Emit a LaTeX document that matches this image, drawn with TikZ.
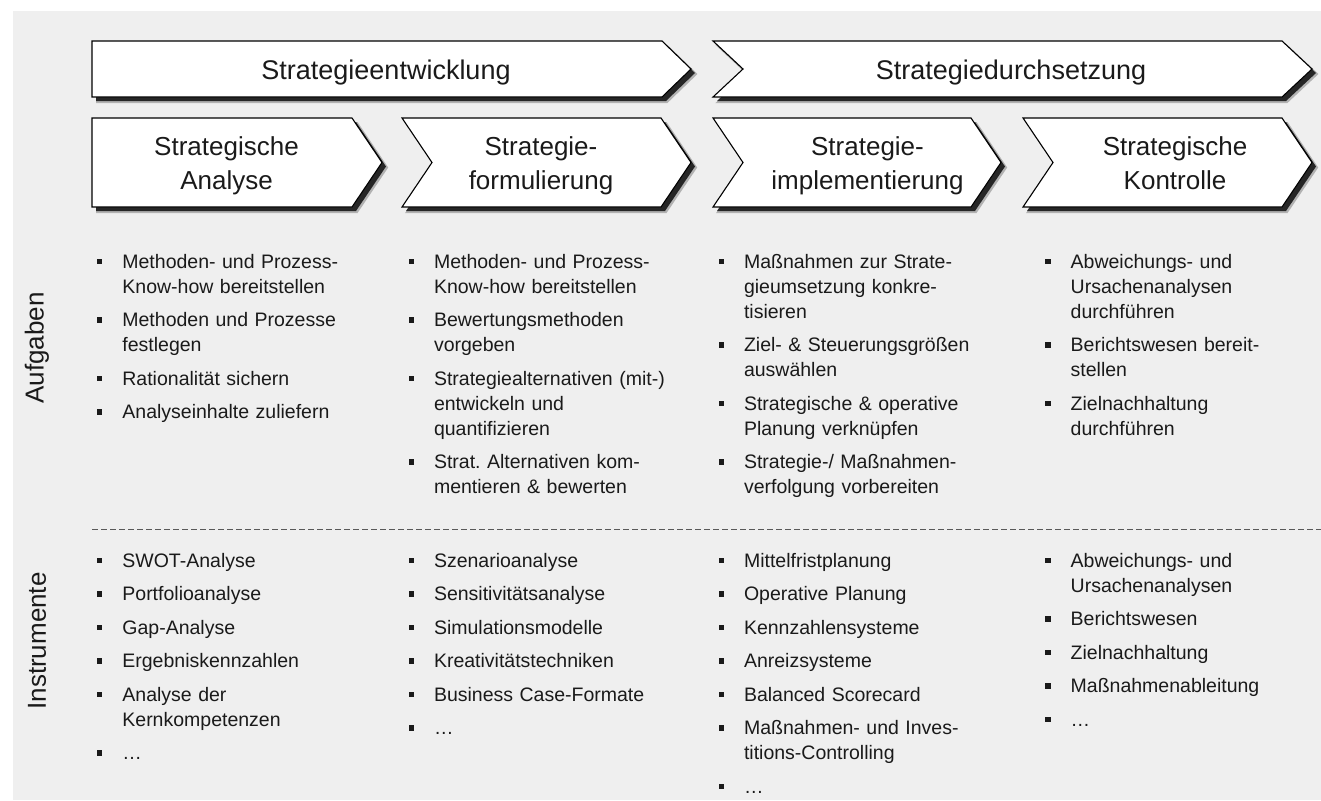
\documentclass[tikz,border=0pt]{standalone}
\usepackage{fontspec}
\setmainfont{Liberation Sans}
\frenchspacing
\definecolor{bggray}{HTML}{EFEFEF}
\definecolor{txt}{HTML}{1A1A1A}
\newcommand{\drawchev}[1]{%
  \fill[shadowsoft, shift={(5,5)}] #1;
  \fill[shadowdark, shift={(4,4)}] #1;
  \draw[chev] #1;}
\newcommand{\bulletbox}{\makebox[25.5pt][l]{\raisebox{4pt}{\rule{5.5pt}{5.5pt}}}}
\newcommand{\lif}[1]{\noindent\hangindent=25.5pt\hangafter=1\bulletbox#1}
\newcommand{\li}[1]{\par\noindent\hangindent=25.5pt\hangafter=1\bulletbox#1}
\newcommand{\listsetup}{\setlength{\parskip}{8.5pt}}
\begin{document}
\begin{tikzpicture}[x=1pt,y=-1pt,
  chev/.style={draw=black, line width=1.1pt, fill=white, line join=miter},
  shadowdark/.style={fill=black!85},
  shadowsoft/.style={fill=black!30, draw=black!30, line width=2pt},
  headtxt/.style={font=\fontsize{26}{33.5}\selectfont, text=txt, align=center, text width=300pt, inner sep=0pt, anchor=base},
  toptxt/.style={headtxt, font=\fontsize{27}{33.5}\selectfont},
  sidetxt/.style={font=\fontsize{26}{30}\selectfont, text=txt, rotate=90, inner sep=0pt, anchor=center},
  listtxt/.style={font=\fontsize{19.5}{25}\selectfont, text=txt, text width=300pt, align=left, inner sep=0pt, anchor=base west},
  sepline/.style={draw=black!65, line width=0.9pt, dash pattern=on 5.5pt off 3.5pt}
]
\useasboundingbox (0,0) rectangle (1321,800);
\fill[white] (0,0) rectangle (1321,800);
\fill[bggray] (13,11) rectangle (1321,800);

% top row
\drawchev{(92,41) -- (662,41) -- (691,69) -- (662,97) -- (92,97) -- cycle}
\drawchev{(713,41) -- (1282,41) -- (1312,69) -- (1282,97) -- (713,97) -- (743,69) -- cycle}
\node[toptxt] (entw) at (386,79) {Strategieentwicklung};
\node[toptxt] (durch) at (1011,79) {Strategiedurchsetzung};

% second row
\drawchev{(92,118) -- (352,118) -- (382,162.5) -- (352,207) -- (92,207) -- cycle}
\drawchev{(402,118) -- (661,118) -- (691,162.5) -- (661,207) -- (402,207) -- (432,162.5) -- cycle}
\drawchev{(713,118) -- (971,118) -- (1001,162.5) -- (971,207) -- (713,207) -- (743,162.5) -- cycle}
\drawchev{(1023,118) -- (1282,118) -- (1312,162.5) -- (1282,207) -- (1023,207) -- (1053,162.5) -- cycle}
\node[headtxt] (ana) at (226.5,155.5) {Strategische\\Analyse};
\node[headtxt] (form) at (541,155.5) {Strategie-\\formulierung};
\node[headtxt] (impl) at (867.5,155.5) {Strategie-\\implementierung};
\node[headtxt] (kont) at (1175,155.5) {Strategische\\Kontrolle};

% side labels
\node[sidetxt] (aufg) at (37,348) {Aufgaben};
\node[sidetxt] (instr) at (37,641) {Instrumente};

% separator
\coordinate (sepL) at (92,529);
\coordinate (sepR) at (1321,529);
\draw[sepline] (sepL) -- (sepR);

% Aufgaben
\node[listtxt] (a1) at (96.7,268) {\listsetup
\lif{Methoden- und Prozess-\newline Know-how bereitstellen}
\li{Methoden und Prozesse\newline festlegen}
\li{Rationalität sichern}
\li{Analyseinhalte zuliefern}\par};
\node[listtxt] (a2) at (408.3,268) {\listsetup
\lif{Methoden- und Prozess-\newline Know-how bereitstellen}
\li{Bewertungsmethoden\newline vorgeben}
\li{Strategiealternativen (mit-)\newline entwickeln und\newline quantifizieren}
\li{Strat. Alternativen kom-\newline mentieren \& bewerten}\par};
\node[listtxt] (a3) at (718.3,268) {\listsetup
\lif{Maßnahmen zur Strate-\newline gieumsetzung konkre-\newline tisieren}
\li{Ziel- \& Steuerungsgrößen\newline auswählen}
\li{Strategische \& operative\newline Planung verknüpfen}
\li{Strategie-/ Maßnahmen-\newline verfolgung vorbereiten}\par};
\node[listtxt] (a4) at (1045,268) {\listsetup
\lif{Abweichungs- und\newline Ursachenanalysen\newline durchführen}
\li{Berichtswesen bereit-\newline stellen}
\li{Zielnachhaltung\newline durchführen}\par};

% Instrumente
\node[listtxt] (i1) at (96.7,567) {\listsetup
\lif{SWOT-Analyse}
\li{Portfolioanalyse}
\li{Gap-Analyse}
\li{Ergebniskennzahlen}
\li{Analyse der\newline Kernkompetenzen}
\li{…}\par};
\node[listtxt] (i2) at (408.3,567) {\listsetup
\lif{Szenarioanalyse}
\li{Sensitivitätsanalyse}
\li{Simulationsmodelle}
\li{Kreativitätstechniken}
\li{Business Case-Formate}
\li{…}\par};
\node[listtxt] (i3) at (718.3,567) {\listsetup
\lif{Mittelfristplanung}
\li{Operative Planung}
\li{Kennzahlensysteme}
\li{Anreizsysteme}
\li{Balanced Scorecard}
\li{Maßnahmen- und Inves-\newline titions-Controlling}
\li{…}\par};
\node[listtxt] (i4) at (1045,567) {\listsetup
\lif{Abweichungs- und\newline Ursachenanalysen}
\li{Berichtswesen}
\li{Zielnachhaltung}
\li{Maßnahmenableitung}
\li{…}\par};
\end{tikzpicture}
\end{document}
